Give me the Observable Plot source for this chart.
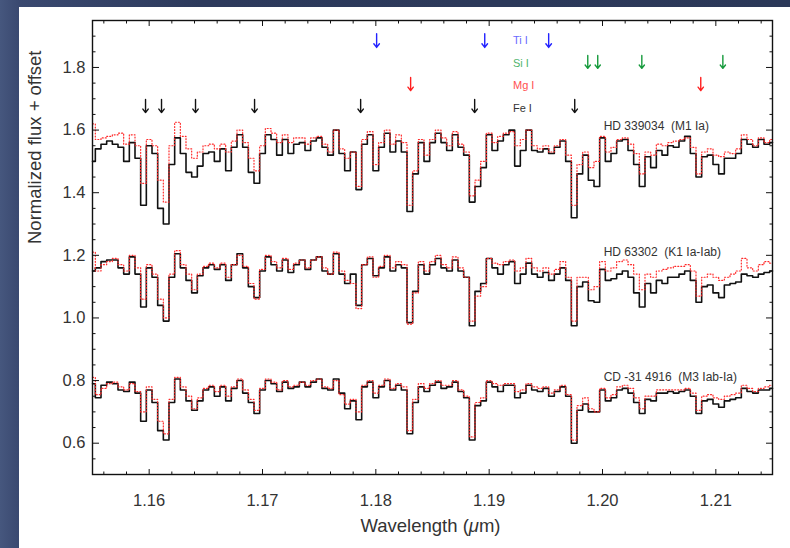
<!DOCTYPE html>
<html><head><meta charset="utf-8">
<script src="https://cdn.jsdelivr.net/npm/d3@7"></script>
<script src="https://cdn.jsdelivr.net/npm/@observablehq/plot@0.6"></script>
<style>
html,body{margin:0;padding:0;}
body{width:790px;height:548px;overflow:hidden;position:relative;
  background:linear-gradient(90deg,#46577e 0px,#3a4970 19px,#2d3a5c 200px,#2b3858 790px);
  font-family:"Liberation Sans",Arial,Helvetica,sans-serif;}
#panel{position:absolute;left:19px;top:7px;right:0;bottom:0;background:#fff;}
#chart{position:absolute;left:0;top:0;}
</style></head><body><div id="panel"></div><div id="chart"></div>
<script>
// Wavelength sampling grid (µm)
const lambdaStart = 1.155, lambdaStep = 0.0005, nSamples = 121;
const wavelength = d3.range(nSamples).map(i => +(lambdaStart + i * lambdaStep).toFixed(4));

const stars = ["HD 339034  (M1 Ia)", "HD 63302  (K1 Ia-Iab)", "CD -31 4916  (M3 Iab-Ia)"];

// Normalized flux + offset, black solid (observed)
const fluxBlackHD339034 = [
 1.50,1.54,1.555,1.565,1.555,1.545,1.50,1.56,1.51,1.36,1.55,1.525,1.35,1.30,1.49,1.575,1.525,1.465,1.45,1.485,
 1.525,1.53,1.50,1.54,1.47,1.545,1.585,1.545,1.465,1.43,1.525,1.585,1.57,1.52,1.57,1.525,1.555,1.56,1.535,1.565,1.575,
 1.545,1.52,1.60,1.525,1.47,1.53,1.41,1.555,1.585,1.47,1.545,1.59,1.53,1.565,1.53,1.34,1.46,1.56,1.50,1.56,
 1.59,1.56,1.535,1.585,1.545,1.52,1.37,1.42,1.48,1.585,1.535,1.565,1.585,1.60,1.485,1.535,1.60,1.535,1.53,1.54,
 1.525,1.545,1.565,1.50,1.32,1.46,1.52,1.44,1.42,1.575,1.50,1.525,1.565,1.57,1.535,1.49,1.42,1.515,1.48,1.535,
 1.52,1.55,1.545,1.565,1.58,1.525,1.45,1.515,1.52,1.49,1.46,1.51,1.51,1.525,1.57,1.555,1.545,1.57,1.555,1.56];
const fluxBlackHD63302 = [
 1.15,1.16,1.18,1.185,1.185,1.16,1.14,1.195,1.14,1.035,1.16,1.13,1.04,0.99,1.13,1.205,1.16,1.12,1.08,1.135,
 1.16,1.17,1.155,1.17,1.12,1.17,1.205,1.16,1.10,1.065,1.15,1.195,1.17,1.15,1.185,1.145,1.17,1.185,1.155,1.185,1.195,
 1.15,1.14,1.205,1.14,1.11,1.14,1.04,1.17,1.19,1.135,1.16,1.195,1.15,1.17,1.16,0.985,1.085,1.17,1.14,1.17,
 1.19,1.16,1.15,1.185,1.15,1.13,0.975,1.085,1.11,1.19,1.16,1.14,1.17,1.18,1.11,1.14,1.175,1.14,1.13,1.145,
 1.12,1.14,1.16,1.12,0.975,1.10,1.115,1.055,1.05,1.155,1.12,1.125,1.14,1.15,1.13,1.08,1.035,1.11,1.08,1.12,
 1.11,1.13,1.13,1.14,1.15,1.12,1.05,1.10,1.105,1.08,1.065,1.105,1.11,1.115,1.14,1.135,1.13,1.14,1.145,1.15];
const fluxBlackCD314916 = [
 0.79,0.745,0.785,0.795,0.79,0.77,0.765,0.795,0.76,0.67,0.77,0.73,0.64,0.61,0.73,0.805,0.77,0.735,0.705,0.735,
 0.77,0.78,0.75,0.78,0.735,0.775,0.80,0.76,0.73,0.695,0.77,0.80,0.79,0.765,0.795,0.775,0.78,0.795,0.78,0.795,0.805,
 0.775,0.77,0.805,0.76,0.71,0.735,0.675,0.78,0.795,0.745,0.78,0.80,0.77,0.785,0.77,0.63,0.73,0.78,0.765,0.785,
 0.795,0.775,0.78,0.795,0.765,0.745,0.61,0.72,0.735,0.795,0.78,0.765,0.785,0.785,0.745,0.76,0.785,0.77,0.765,0.775,
 0.75,0.765,0.78,0.75,0.60,0.705,0.725,0.70,0.70,0.77,0.735,0.745,0.77,0.775,0.76,0.73,0.695,0.74,0.735,0.76,
 0.76,0.765,0.76,0.765,0.77,0.75,0.695,0.735,0.74,0.725,0.715,0.735,0.74,0.745,0.775,0.765,0.76,0.77,0.77,0.775];

// Normalized flux + offset, red dotted (comparison)
const fluxRedHD339034 = [
 1.62,1.57,1.575,1.58,1.585,1.59,1.555,1.585,1.55,1.43,1.57,1.55,1.44,1.37,1.55,1.625,1.58,1.54,1.51,1.53,
 1.55,1.555,1.54,1.555,1.53,1.565,1.60,1.56,1.51,1.47,1.55,1.605,1.59,1.56,1.585,1.56,1.575,1.575,1.555,1.575,1.58,
 1.555,1.53,1.60,1.54,1.51,1.53,1.42,1.57,1.595,1.49,1.56,1.60,1.555,1.585,1.56,1.36,1.47,1.57,1.52,1.57,
 1.60,1.575,1.55,1.595,1.555,1.53,1.39,1.44,1.50,1.59,1.56,1.58,1.59,1.595,1.55,1.57,1.60,1.55,1.54,1.55,
 1.53,1.55,1.57,1.52,1.36,1.49,1.53,1.48,1.50,1.58,1.53,1.545,1.57,1.575,1.555,1.525,1.46,1.53,1.52,1.555,
 1.55,1.56,1.565,1.57,1.575,1.545,1.46,1.53,1.54,1.52,1.515,1.53,1.525,1.54,1.585,1.57,1.55,1.575,1.56,1.57];
const fluxRedHD63302 = [
 1.21,1.15,1.17,1.18,1.19,1.17,1.15,1.20,1.16,1.06,1.17,1.14,1.06,1.00,1.14,1.215,1.17,1.14,1.09,1.14,
 1.165,1.175,1.16,1.175,1.13,1.17,1.20,1.165,1.11,1.06,1.155,1.20,1.18,1.16,1.19,1.155,1.175,1.185,1.16,1.185,1.195,
 1.16,1.14,1.21,1.15,1.12,1.11,1.03,1.17,1.195,1.13,1.165,1.20,1.16,1.18,1.17,0.98,1.08,1.18,1.15,1.18,
 1.20,1.17,1.16,1.195,1.16,1.13,0.99,1.07,1.10,1.19,1.175,1.17,1.18,1.185,1.15,1.16,1.19,1.16,1.15,1.16,
 1.14,1.155,1.18,1.13,0.99,1.13,1.13,1.09,1.10,1.18,1.15,1.16,1.18,1.185,1.17,1.14,1.09,1.14,1.13,1.15,
 1.155,1.16,1.165,1.165,1.17,1.15,1.07,1.13,1.14,1.13,1.12,1.13,1.14,1.15,1.19,1.16,1.15,1.17,1.18,1.175];
const fluxRedCD314916 = [
 0.81,0.755,0.775,0.79,0.795,0.78,0.77,0.79,0.765,0.70,0.78,0.74,0.67,0.63,0.74,0.81,0.78,0.75,0.71,0.745,
 0.775,0.785,0.765,0.785,0.75,0.78,0.805,0.77,0.74,0.705,0.775,0.805,0.795,0.77,0.80,0.78,0.785,0.795,0.785,0.80,0.805,
 0.78,0.775,0.80,0.755,0.725,0.74,0.70,0.785,0.80,0.76,0.785,0.805,0.775,0.79,0.78,0.64,0.74,0.79,0.775,0.79,
 0.80,0.785,0.785,0.80,0.77,0.75,0.62,0.73,0.745,0.80,0.79,0.785,0.79,0.79,0.765,0.77,0.79,0.78,0.775,0.78,
 0.76,0.77,0.785,0.755,0.61,0.72,0.745,0.71,0.70,0.775,0.745,0.755,0.78,0.785,0.775,0.745,0.71,0.75,0.75,0.77,
 0.77,0.77,0.77,0.77,0.775,0.76,0.705,0.75,0.755,0.745,0.74,0.75,0.755,0.76,0.785,0.775,0.765,0.775,0.78,0.785];

const blackSeries = [fluxBlackHD339034, fluxBlackHD63302, fluxBlackCD314916];
const redSeries = [fluxRedHD339034, fluxRedHD63302, fluxRedCD314916];
const starLabelLambda = 1.2001;
const starLabelFlux = [1.612, 1.21, 0.81];

// Line identifications
const species = ["Ti I", "Si I", "Mg I", "Fe I"];
const speciesArrowColor = ["#2222ff", "#159a3c", "#ff1e1e", "#111111"];
const speciesTextColor = ["#6a6aff", "#4fb46e", "#ff5050", "#333333"];
const lineLambda = [
  [1.18007, 1.18961, 1.19525],
  [1.19870, 1.19958, 1.20347, 1.21062],
  [1.18307, 1.20867],
  [1.15968, 1.16109, 1.16409, 1.16930, 1.17866, 1.18872, 1.19755]
];
const arrowTopFlux = [1.908, 1.838, 1.768, 1.698];
const arrowTipFlux = [1.864, 1.797, 1.726, 1.656];
const speciesLabelLambda = 1.1921;
const speciesLabelFlux = [1.886, 1.8127, 1.7424, 1.669];

// Axis ticks
const xMajor = [1.16, 1.17, 1.18, 1.19, 1.20, 1.21];
const xMinor = d3.range(1.156, 1.2151, 0.002).filter(v => !xMajor.some(m => Math.abs(m - v) < 1e-6));
const yMajor = [0.6, 0.8, 1.0, 1.2, 1.4, 1.6, 1.8];
const yMinor = d3.range(0.55, 1.951, 0.05).filter(v => !yMajor.some(m => Math.abs(m - v) < 1e-6));

const rowsBlack = [], rowsRed = [];
stars.forEach((s, i) => wavelength.forEach((w, j) => {
  rowsBlack.push({star: s, w, f: blackSeries[i][j]});
  rowsRed.push({star: s, w, f: redSeries[i][j]});
}));
const arrows = [];
species.forEach((sp, i) => lineLambda[i].forEach(l => arrows.push({sp, i, l, top: arrowTopFlux[i], tip: arrowTipFlux[i]})));

const font = '"Liberation Sans", Arial, Helvetica, sans-serif';
const plot = Plot.plot({
  width: 790, height: 548,
  marginLeft: 92, marginRight: 18, marginTop: 20, marginBottom: 74,
  style: {background: "transparent", fontFamily: font, overflow: "visible", whiteSpace: "pre"},
  x: {domain: [1.155, 1.215], label: null},
  y: {domain: [0.5, 1.95], label: null},
  marks: [
    Plot.lineY(rowsBlack, {x: "w", y: "f", z: "star", curve: "step", stroke: "#111", strokeWidth: 1.6}),
    Plot.lineY(rowsRed, {x: "w", y: "f", z: "star", curve: "step", stroke: "#ff2a2a", strokeWidth: 1.2, strokeDasharray: "1,2"}),
    Plot.frame({stroke: "#111", strokeWidth: 1.4}),
    // inward ticks, all four sides
    Plot.axisX({anchor: "bottom", ticks: xMajor, tickSize: 5, dy: -5, fill: "none", stroke: "#111", label: null}),
    Plot.axisX({anchor: "bottom", ticks: xMinor, tickSize: 2.5, dy: -2.5, fill: "none", stroke: "#111", label: null}),
    Plot.axisX({anchor: "top", ticks: xMajor, tickSize: 5, dy: 5, fill: "none", stroke: "#111", label: null}),
    Plot.axisX({anchor: "top", ticks: xMinor, tickSize: 2.5, dy: 2.5, fill: "none", stroke: "#111", label: null}),
    Plot.axisY({anchor: "left", ticks: yMajor, tickSize: 7, dx: 7, fill: "none", stroke: "#111", label: null}),
    Plot.axisY({anchor: "left", ticks: yMinor, tickSize: 3.5, dx: 3.5, fill: "none", stroke: "#111", label: null}),
    Plot.axisY({anchor: "right", ticks: yMajor, tickSize: 7, dx: -7, fill: "none", stroke: "#111", label: null}),
    Plot.axisY({anchor: "right", ticks: yMinor, tickSize: 3.5, dx: -3.5, fill: "none", stroke: "#111", label: null}),
    // tick labels
    Plot.axisX({anchor: "bottom", ticks: xMajor, tickSize: 0, tickPadding: 20, tickFormat: d3.format(".2f"), fontSize: 16.5, fill: "#333", label: null}),
    Plot.axisY({anchor: "left", ticks: yMajor, tickSize: 0, tickPadding: 7, tickFormat: d3.format(".1f"), fontSize: 16.5, fill: "#333", label: null}),
    // axis titles
    Plot.text(["Normalized flux + offset"], {frameAnchor: "left", dx: -57, dy: -3.5, rotate: -90, text: d => d, fontSize: 18.5, fill: "#333"}),
    Plot.text(["Wavelength (μm)"], {frameAnchor: "bottom", dx: -2, dy: 57, text: d => d, fontSize: 18.5, fill: "#333"}),
    // star labels
    Plot.text(stars, {x: () => starLabelLambda, y: (d, i) => starLabelFlux[i], text: d => d, textAnchor: "start", fontSize: 12, fill: "#333"}),
    // line identification arrows and labels
    Plot.arrow(arrows, {x1: "l", x2: "l", y1: "top", y2: "tip", stroke: d => speciesArrowColor[d.i], headLength: 6, headAngle: 75, strokeWidth: 1.4}),
    Plot.text(species, {x: () => speciesLabelLambda, y: (d, i) => speciesLabelFlux[i], text: d => d, textAnchor: "start", fontSize: 11, fill: (d, i) => speciesTextColor[i]})
  ]
});
document.getElementById("chart").appendChild(plot);
d3.select(plot).selectAll("text").each(function() {
  if (this.textContent === "Wavelength (μm)") {
    this.innerHTML = 'Wavelength (<tspan font-style="italic">μ</tspan>m)';
  }
});
</script></body></html>
